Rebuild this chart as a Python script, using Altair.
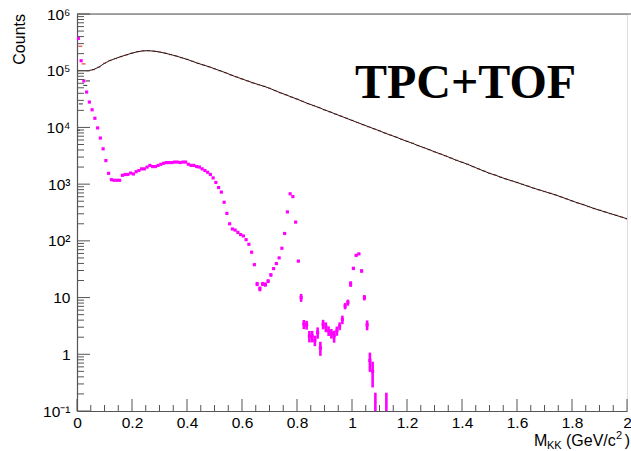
import altair as alt
import pandas as pd

# ---------------- data ----------------
# black histogram (same-event distribution), bin centres in GeV/c^2
black_x = [0.00, 0.04, 0.06, 0.08, 0.10, 0.12, 0.14, 0.16, 0.18, 0.20,
           0.22, 0.24, 0.26, 0.28, 0.30, 0.32, 0.34, 0.36, 0.38, 0.40,
           0.42, 0.44, 0.46, 0.48, 0.50, 0.52, 0.54, 0.56, 0.58, 0.60,
           0.62, 0.64, 0.66, 0.68, 0.70, 0.72, 0.74, 0.76, 0.78, 0.80,
           0.82, 0.84, 0.86, 0.88, 0.90, 0.92, 0.94, 0.96, 0.98, 1.00,
           1.02, 1.04, 1.06, 1.08, 1.10, 1.12, 1.14, 1.16, 1.18, 1.20,
           1.22, 1.24, 1.26, 1.28, 1.30, 1.32, 1.34, 1.36, 1.38, 1.40,
           1.42, 1.44, 1.46, 1.48, 1.50, 1.52, 1.54, 1.56, 1.58, 1.60,
           1.62, 1.64, 1.66, 1.68, 1.70, 1.72, 1.74, 1.76, 1.78, 1.80,
           1.82, 1.84, 1.86, 1.88, 1.90, 1.92, 1.94, 1.96, 1.98, 2.00]
black_y = [100000, 100000, 104700, 116100, 134900, 151400, 164100, 177800, 190500, 204200,
           216300, 223900, 225400, 221300, 213800, 204200, 192800, 182000, 169800, 158500,
           146200, 134900, 125900, 117500, 108400, 100000, 92300, 84100, 77600, 71600,
           66100, 61000, 56900, 53100, 49000, 44700, 40700, 37600, 34300, 31600,
           28800, 26300, 24300, 22400, 20400, 18800, 17200, 15800, 14500, 13300,
           12200, 11200, 10300, 9460, 8710, 7940, 7330, 6760, 6170, 5690,
           5250, 4790, 4420, 4070, 3720, 3430, 3160, 2880, 2630, 2430,
           2240, 2040, 1860, 1700, 1550, 1450, 1330, 1230, 1150, 1070,
           990, 920, 850, 794, 741, 692, 646, 596, 550, 507,
           468, 437, 403, 372, 347, 324, 302, 282, 263, 245]

# low-mass fragments of the black and red histograms
black_low_x = [0.004, 0.014, 0.030, 0.040]
black_low_y = [8900, 26000, 55000, 66000]
red_low_x = [0.012, 0.024]
red_low_y = [270000, 132000]

# magenta points (difference distribution)
mag_x = [0.005, 0.015, 0.025, 0.035, 0.045, 0.055, 0.065, 0.075, 0.085, 0.095,
         0.105, 0.115, 0.125, 0.135, 0.145, 0.155, 0.165, 0.175, 0.185, 0.195,
         0.205, 0.215, 0.225, 0.235, 0.245, 0.255, 0.265, 0.275, 0.285, 0.295,
         0.305, 0.315, 0.325, 0.335, 0.345, 0.355, 0.365, 0.375, 0.385, 0.395,
         0.405, 0.415, 0.425, 0.435, 0.445, 0.455, 0.465, 0.475, 0.485, 0.495,
         0.505, 0.515, 0.525, 0.535, 0.545, 0.555, 0.565, 0.575, 0.585, 0.595,
         0.605, 0.615, 0.625, 0.635, 0.645, 0.655, 0.665, 0.675, 0.685, 0.695,
         0.705, 0.715, 0.725, 0.735, 0.745, 0.755, 0.765, 0.775, 0.785, 0.795,
         0.805, 0.815, 0.825, 0.835, 0.845, 0.855, 0.865, 0.875, 0.885, 0.895,
         0.905, 0.915, 0.925, 0.935, 0.945, 0.955, 0.965, 0.975, 0.985, 0.995,
         1.005, 1.015, 1.025, 1.035, 1.045, 1.055, 1.065, 1.075, 1.085, 1.125]
mag_y = [370000, 150000, 66000, 42000, 28000, 20500, 14500, 9800, 6500, 4200,
         2600, 1550, 1200, 1170, 1170, 1170, 1430, 1480, 1480, 1570,
         1510, 1660, 1740, 1860, 1860, 2000, 2140, 2040, 2040, 2140,
         2240, 2330, 2400, 2400, 2400, 2450, 2450, 2400, 2450, 2450,
         2240, 2140, 2140, 2040, 2000, 1860, 1740, 1620, 1480, 1290,
         1070, 870, 724, 479, 305, 200, 162, 155, 141, 129,
         122, 105, 87, 63, 38, 17.4, 14.3, 17.4, 17.0, 19.5,
         25.1, 32.4, 39.8, 50.1, 74, 135, 324, 676, 603, 214,
         44, 10.0, 3.4, 3.3, 2.1, 2.1, 1.76, 2.43, 1.30, 3.4,
         3.05, 2.6, 2.34, 2.1, 2.6, 3.16, 4.1, 7.1, 8.2, 17.4,
         32.7, 55.6, 58.9, 29.5, 10.0, 3.3, 0.78, 0.50, 0.03, 0.03]
# visible error bars of the magenta points
err_x = [0.655, 0.665, 0.675, 0.685, 0.695, 0.705, 0.805, 0.815, 0.825, 0.835,
         0.845, 0.855, 0.865, 0.875, 0.885, 0.895, 0.905, 0.915, 0.925, 0.935,
         0.945, 0.955, 0.965, 0.975, 0.985, 0.995, 1.005, 1.015, 1.025, 1.035,
         1.045, 1.055, 1.065, 1.075, 1.085, 1.125]
err_v = [1.5, 1.4, 1.5, 1.5, 1.5, 1.7, 2.0, 1.6, 0.62, 0.58,
         0.48, 0.48, 0.37, 0.55, 0.36, 0.65, 0.6, 0.5, 0.45, 0.5,
         0.48, 0.5, 0.7, 0.9, 1.0, 2.0, 2.2, 2.4, 2.4, 2.0,
         1.1, 0.65, 0.29, 0.24, 0.18, 0.18]

x_major = [0, 0.2, 0.4, 0.6, 0.8, 1.0, 1.2, 1.4, 1.6, 1.8, 2.0]
y_major = [0.1, 1, 10, 100, 1e3, 1e4, 1e5, 1e6]

# ---------------- frames ----------------
black = pd.DataFrame({"x": black_x, "y": black_y})
black_low = pd.DataFrame({"x": black_low_x, "y": black_low_y})
red_low = pd.DataFrame({"x": red_low_x, "y": red_low_y})
mag = pd.DataFrame({"x": mag_x, "y": mag_y})
err = pd.DataFrame({"x": err_x, "e": err_v}).merge(mag, on="x")
err["lo"] = (err["y"] - err["e"]).clip(lower=0.1)
err["hi"] = err["y"] + err["e"]

x_minor = [round(i * 0.05, 2) for i in range(41) if i % 4]
y_minor = [m * 10.0 ** k for k in range(-1, 6) for m in range(2, 10)]

FONT = "Liberation Sans"
AX = "#555555"
W, H = 550, 397

xs = alt.Scale(domain=[0, 2], nice=False, zero=False)
ys = alt.Scale(type="log", domain=[0.1, 1e6], nice=False)

xaxis = alt.Axis(values=x_major, format="~g", ticks=False, grid=False, title=None,
                 labelFont=FONT, labelFontSize=15.5, labelColor="black",
                 labelPadding=4, labelFlush=False, domainColor=AX, domainWidth=1.2)
ylab = ("datum.value < 0.5 ? '10⁻¹' : datum.value < 5 ? '1' : datum.value < 50 ? '10' : "
        "datum.value < 500 ? '10²' : datum.value < 5000 ? '10³' : datum.value < 50000 ? '10⁴' : "
        "datum.value < 500000 ? '10⁵' : '10⁶'")
yaxis = alt.Axis(values=y_major, labelExpr=ylab, ticks=False, grid=False, title=None,
                 labelFont=FONT, labelFontSize=15.5, labelColor="black",
                 labelPadding=7, labelFlush=False, domainColor=AX, domainWidth=1.2)


def X(f="x"):
    return alt.X(f + ":Q", scale=xs, axis=xaxis)


def Y(f="y"):
    return alt.Y(f + ":Q", scale=ys, axis=yaxis)


red = alt.Chart(black).mark_tick(orient="horizontal", color="#ee1111", size=3,
                                 thickness=1.3, opacity=0.6, clip=True).encode(x=X(), y=Y())
line = alt.Chart(black).mark_line(color="black", strokeWidth=0.9, clip=True).encode(x=X(), y=Y())
blow = alt.Chart(black_low).mark_tick(orient="horizontal", color="black", size=4,
                                      thickness=1.2, clip=True).encode(x=X(), y=Y())
rlow = alt.Chart(red_low).mark_tick(orient="horizontal", color="#ee1111", size=4,
                                    thickness=1.4, clip=True).encode(x=X(), y=Y())
ebars = alt.Chart(err).mark_rule(color="#ff00ff", strokeWidth=2.6, clip=True).encode(
    x=X(), y=Y("lo"), y2="hi:Q")
pts = alt.Chart(mag).mark_square(color="#ff00ff", size=10, opacity=1, clip=True).encode(
    x=X(), y=Y())

xt_major = alt.Chart(pd.DataFrame({"x": x_major})).mark_rule(color=AX, strokeWidth=1).encode(
    x=X(), y=alt.value(H), y2=alt.value(H - 12))
xt_minor = alt.Chart(pd.DataFrame({"x": x_minor})).mark_rule(color=AX, strokeWidth=1).encode(
    x=X(), y=alt.value(H), y2=alt.value(H - 6))
yt_major = alt.Chart(pd.DataFrame({"y": y_major})).mark_rule(color=AX, strokeWidth=1).encode(
    y=Y(), x=alt.value(0), x2=alt.value(13))
yt_minor = alt.Chart(pd.DataFrame({"y": y_minor})).mark_rule(color=AX, strokeWidth=1).encode(
    y=Y(), x=alt.value(0), x2=alt.value(7))
top = alt.Chart(pd.DataFrame({"a": [0]})).mark_rule(color=AX, strokeWidth=1.2).encode(
    x=alt.value(0), x2=alt.value(W + 4), y=alt.value(0))

label = alt.Chart(pd.DataFrame({"t": ["TPC+TOF"]})).mark_text(
    font="Liberation Serif", fontWeight="bold", fontSize=48, align="left",
    baseline="alphabetic", color="black").encode(
    text="t:N", x=alt.value(278), y=alt.value(84))

ytitle = alt.Chart(pd.DataFrame({"t": ["Counts"]})).mark_text(
    font=FONT, fontSize=16, angle=270, align="right", baseline="middle",
    color="black").encode(text="t:N", x=alt.value(-57.5), y=alt.value(0))


def piece(txt, x, y, size, align="left"):
    return alt.Chart(pd.DataFrame({"t": [txt]})).mark_text(
        font=FONT, fontSize=size, align=align, baseline="alphabetic", color="black").encode(
        text="t:N", x=alt.value(x), y=alt.value(y))


xtitle = (piece("M", 457, 432, 16) + piece("KK", 470, 435, 11) +
          piece("(GeV/c", 489, 432, 16) + piece("2", 539, 425, 11) +
          piece(")", 553, 432, 16, "right"))

chart = alt.layer(
    red, line, blow, rlow, ebars, pts,
    xt_major, xt_minor, yt_major, yt_minor, top,
    label, ytitle, xtitle,
).properties(
    width=W, height=H,
    autosize=alt.AutoSizeParams(type="none"),
    padding={"left": 77, "top": 14, "right": 4, "bottom": 40},
).configure_view(stroke=None).configure(background="white")

chart.save("out.html", embed_options={"renderer": "svg", "actions": False})
